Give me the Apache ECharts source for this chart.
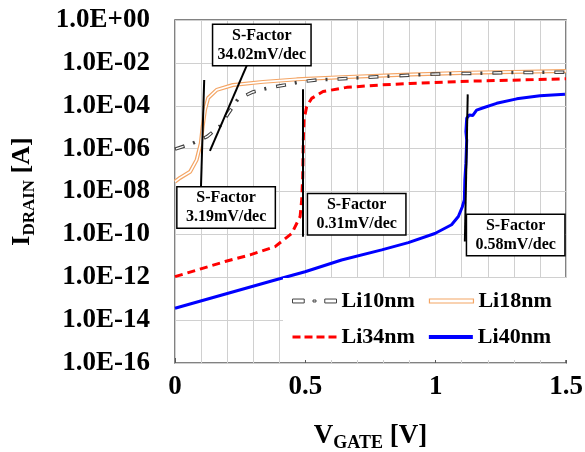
<!DOCTYPE html>
<html>
<head>
<meta charset="utf-8" />
<title>Id-Vg</title>
<script src="https://cdn.jsdelivr.net/npm/echarts@6/dist/echarts.min.js"></script>
<style>
  html, body { margin: 0; padding: 0; background: #fff; }
  #main { width: 585px; height: 452px; }
</style>
</head>
<body>
<div id="main"></div>
<script>
// gate voltage [V] and drain current [A]
var vLi10 = [0, 0.064, 0.123, 0.173, 0.205, 0.242, 0.299, 0.36, 0.422, 0.48, 0.545, 0.60, 0.729, 0.855, 0.99, 1.12, 1.26, 1.39, 1.5];
var iLi10 = [9.5e-7, 1.7e-6, 3.6e-6, 1.15e-5, 4.5e-5, 2.1e-4, 4.4e-4, 6.8e-4, 9.3e-4, 1.3e-3, 1.6e-3, 1.7e-3, 2.1e-3, 2.5e-3, 3.0e-3, 3.2e-3, 3.5e-3, 3.6e-3, 3.7e-3];

var vLi18 = [0, 0.019, 0.058, 0.083, 0.099, 0.106, 0.115, 0.127, 0.16, 0.222, 0.338, 0.467, 0.62, 0.875, 1.13, 1.5];
var iLi18 = [2.9e-8, 4.3e-8, 8.3e-8, 3.0e-7, 1.8e-6, 1.05e-5, 6.3e-5, 2.3e-4, 5.5e-4, 9.3e-4, 1.3e-3, 1.7e-3, 2.1e-3, 2.8e-3, 3.5e-3, 4.2e-3];

var vLi34 = [0, 0.192, 0.288, 0.384, 0.448, 0.48, 0.486, 0.49, 0.492, 0.495, 0.505, 0.524, 0.568, 0.659, 0.786, 0.901, 1.13, 1.5];
var iLi34 = [1.07e-12, 5.4e-12, 1.1e-11, 2.7e-11, 1.1e-10, 6.8e-10, 4.0e-9, 4.9e-8, 1.8e-6, 2.2e-5, 9.1e-5, 2.2e-4, 4.6e-4, 7.2e-4, 9.3e-4, 1.1e-3, 1.4e-3, 1.8e-3];

var vLi40 = [0, 0.384, 0.499, 0.639, 0.793, 0.895, 0.997, 1.061, 1.087, 1.102, 1.110, 1.112, 1.116, 1.119, 1.116, 1.119, 1.129, 1.142, 1.157, 1.183, 1.234, 1.311, 1.40, 1.496];
var iLi40 = [3.6e-14, 7.4e-13, 1.8e-12, 6.4e-12, 1.9e-11, 4.1e-11, 1.1e-10, 2.8e-10, 6.8e-10, 1.9e-9, 4.0e-9, 3.5e-8, 2.1e-7, 2.5e-6, 6.2e-6, 2.6e-5, 3.7e-5, 3.5e-5, 6.3e-5, 8.1e-5, 1.3e-4, 2.1e-4, 2.9e-4, 3.4e-4];

var seriesNames = ['Li10nm', 'Li18nm', 'Li34nm', 'Li40nm'];

// subthreshold-slope tangent lines: [V1, I1, V2, I2]
var sfLines = [
  [0.276, 7.9e-3, 0.134, 7.8e-7],
  [0.112, 1.6e-3, 0.0997, 1.7e-8],
  [0.492, 5.9e-4, 0.492, 7.8e-11],
  [1.123, 3.4e-4, 1.112, 4.6e-11]
];
// S-factor labels: [V, I, text]
var sfLabels = [
  [0.333, 6.8e-2, 'S-Factor\n34.02mV/dec'],
  [0.196, 1.8e-9, 'S-Factor\n3.19mV/dec'],
  [0.697, 8.7e-10, 'S-Factor\n0.31mV/dec'],
  [1.307, 9.3e-11, 'S-Factor\n0.58mV/dec']
];

function pairs(xs, ys) {
  return xs.map(function (x, i) { return [x, ys[i]]; });
}

var FONT = '"Liberation Serif", "Times New Roman", serif';

var chart = echarts.init(document.getElementById('main'), null, { renderer: 'canvas' });
var option = {
  animation: false,
  backgroundColor: '#fff',
  textStyle: { fontFamily: FONT },
  grid: {
    left: 175, right: 19, top: 20, bottom: 89,
    outerBoundsMode: 'none', containLabel: false,
    show: true, borderColor: '#595959', borderWidth: 1.5
  },
  legend: {
    data: [
      {
        name: 'Li10nm',
        icon: 'path://M0,0H12V4H0Z M21,1H24V3H21Z M33,0H45V4H33Z',
        itemStyle: { color: '#fff', borderColor: '#404040', borderWidth: 1 }
      },
      {
        name: 'Li18nm',
        icon: 'rect',
        itemStyle: { color: '#fff', borderColor: '#f4a565', borderWidth: 1.2 }
      },
      {
        name: 'Li34nm',
        icon: 'path://M0,0H8V3H0Z M12,0H20V3H12Z M24,0H32V3H24Z M36,0H44V3H36Z',
        itemStyle: { color: '#ff0000', borderWidth: 0 }
      },
      {
        name: 'Li40nm',
        icon: 'rect',
        itemStyle: { color: '#0000ff', borderWidth: 0 }
      }
    ],
    left: 283, top: 278, width: 262,
    orient: 'horizontal',
    itemWidth: 44, itemHeight: 4, itemGap: 14,
    padding: [12, 16, 12, 9],
    backgroundColor: '#fff',
    textStyle: { fontFamily: FONT, fontSize: 22, fontWeight: 'bold', color: '#000', lineHeight: 20 }
  },
  xAxis: {
    type: 'value', min: 0, max: 1.5, interval: 0.5,
    name: '{a|V}{b|GATE}{a| [V]}',
    nameLocation: 'middle', nameGap: 60,
    nameTextStyle: {
      rich: {
        a: { fontFamily: FONT, fontSize: 27, fontWeight: 'bold', color: '#000', lineHeight: 29, verticalAlign: 'top' },
        b: { fontFamily: FONT, fontSize: 18, fontWeight: 'bold', color: '#000', lineHeight: 18, verticalAlign: 'bottom' }
      }
    },
    axisLine: { show: false },
    axisTick: { show: true, inside: true, length: 5, lineStyle: { color: '#595959' } },
    minorTick: { show: false, splitNumber: 5 },
    axisLabel: {
      margin: 11, fontFamily: FONT, fontSize: 27, fontWeight: 'bold', color: '#000',
      formatter: function (v) { return String(v); }
    },
    splitLine: { show: true, lineStyle: { color: '#d0d0d0', width: 1 } },
    minorSplitLine: { show: true, lineStyle: { color: '#d0d0d0', width: 1 } }
  },
  yAxis: {
    type: 'log', logBase: 10, min: 1e-16, max: 1, splitNumber: 8, interval: 2,
    name: '{a|I}{b|DRAIN}{a| [A]}',
    nameLocation: 'middle', nameRotate: 90, nameGap: 137,
    nameTextStyle: {
      rich: {
        a: { fontFamily: FONT, fontSize: 26, fontWeight: 'bold', color: '#000', lineHeight: 29, verticalAlign: 'top' },
        b: { fontFamily: FONT, fontSize: 17, fontWeight: 'bold', color: '#000', lineHeight: 17, verticalAlign: 'bottom' }
      }
    },
    axisLine: { show: false },
    axisTick: { show: false },
    axisLabel: {
      margin: 25, fontFamily: FONT, fontSize: 27, fontWeight: 'bold', color: '#000',
      formatter: function (v) {
        var e = Math.round(Math.log10(v));
        var a = Math.abs(e);
        return '1.0E' + (e >= 0 ? '+' : '-') + (a < 10 ? '0' + a : a);
      }
    },
    splitLine: { show: true, lineStyle: { color: '#d0d0d0', width: 1 } }
  },
  series: [
    {
      name: 'Li18nm', type: 'line', data: pairs(vLi18, iLi18),
      showSymbol: false, symbol: 'none', z: 2,
      lineStyle: { color: '#f4a565', width: 4 }
    },
    {
      name: 'Li18nm_in', type: 'line', data: pairs(vLi18, iLi18),
      showSymbol: false, symbol: 'none', z: 2, silent: true,
      lineStyle: { color: '#fff', width: 1.6 }
    },
    {
      name: 'Li10nm', type: 'line', data: pairs(vLi10, iLi10),
      showSymbol: false, symbol: 'none', z: 3,
      lineStyle: { color: '#404040', width: 3.5, type: [10, 9, 2, 10], cap: 'butt' }
    },
    {
      name: 'Li10nm_in', type: 'line', data: pairs(vLi10, iLi10),
      showSymbol: false, symbol: 'none', z: 3, silent: true,
      lineStyle: { color: '#fff', width: 1.4, type: [8, 23], dashOffset: 30, cap: 'butt' }
    },
    {
      name: 'Li34nm', type: 'line', data: pairs(vLi34, iLi34),
      showSymbol: false, symbol: 'none', z: 3,
      lineStyle: { color: '#ff0000', width: 3, type: [8, 5] }
    },
    {
      name: 'Li40nm', type: 'line', data: pairs(vLi40, iLi40),
      showSymbol: false, symbol: 'none', z: 3,
      lineStyle: { color: '#0000ff', width: 3 }
    },
    {
      name: 'annotations', type: 'line', data: [], z: 5, silent: true,
      markLine: {
        silent: true, symbol: ['none', 'none'], animation: false,
        label: { show: false },
        lineStyle: { color: '#000', width: 2, type: 'solid' },
        data: sfLines.map(function (l) {
          return [{ coord: [l[0], l[1]] }, { coord: [l[2], l[3]] }];
        })
      },
      markPoint: {
        silent: true, symbol: 'rect', symbolSize: 0, animation: false,
        label: {
          show: true, position: 'inside',
          fontFamily: FONT, fontSize: 16, fontWeight: 'bold', color: '#000',
          lineHeight: 19, align: 'center', width: 91,
          backgroundColor: '#fff', borderColor: '#000', borderWidth: 1.5, padding: [1, 3]
        },
        data: sfLabels.map(function (s) {
          return { coord: [s[0], s[1]], value: s[2], label: { formatter: s[2] } };
        })
      }
    }
  ]
};
chart.setOption(option);
</script>
</body>
</html>
